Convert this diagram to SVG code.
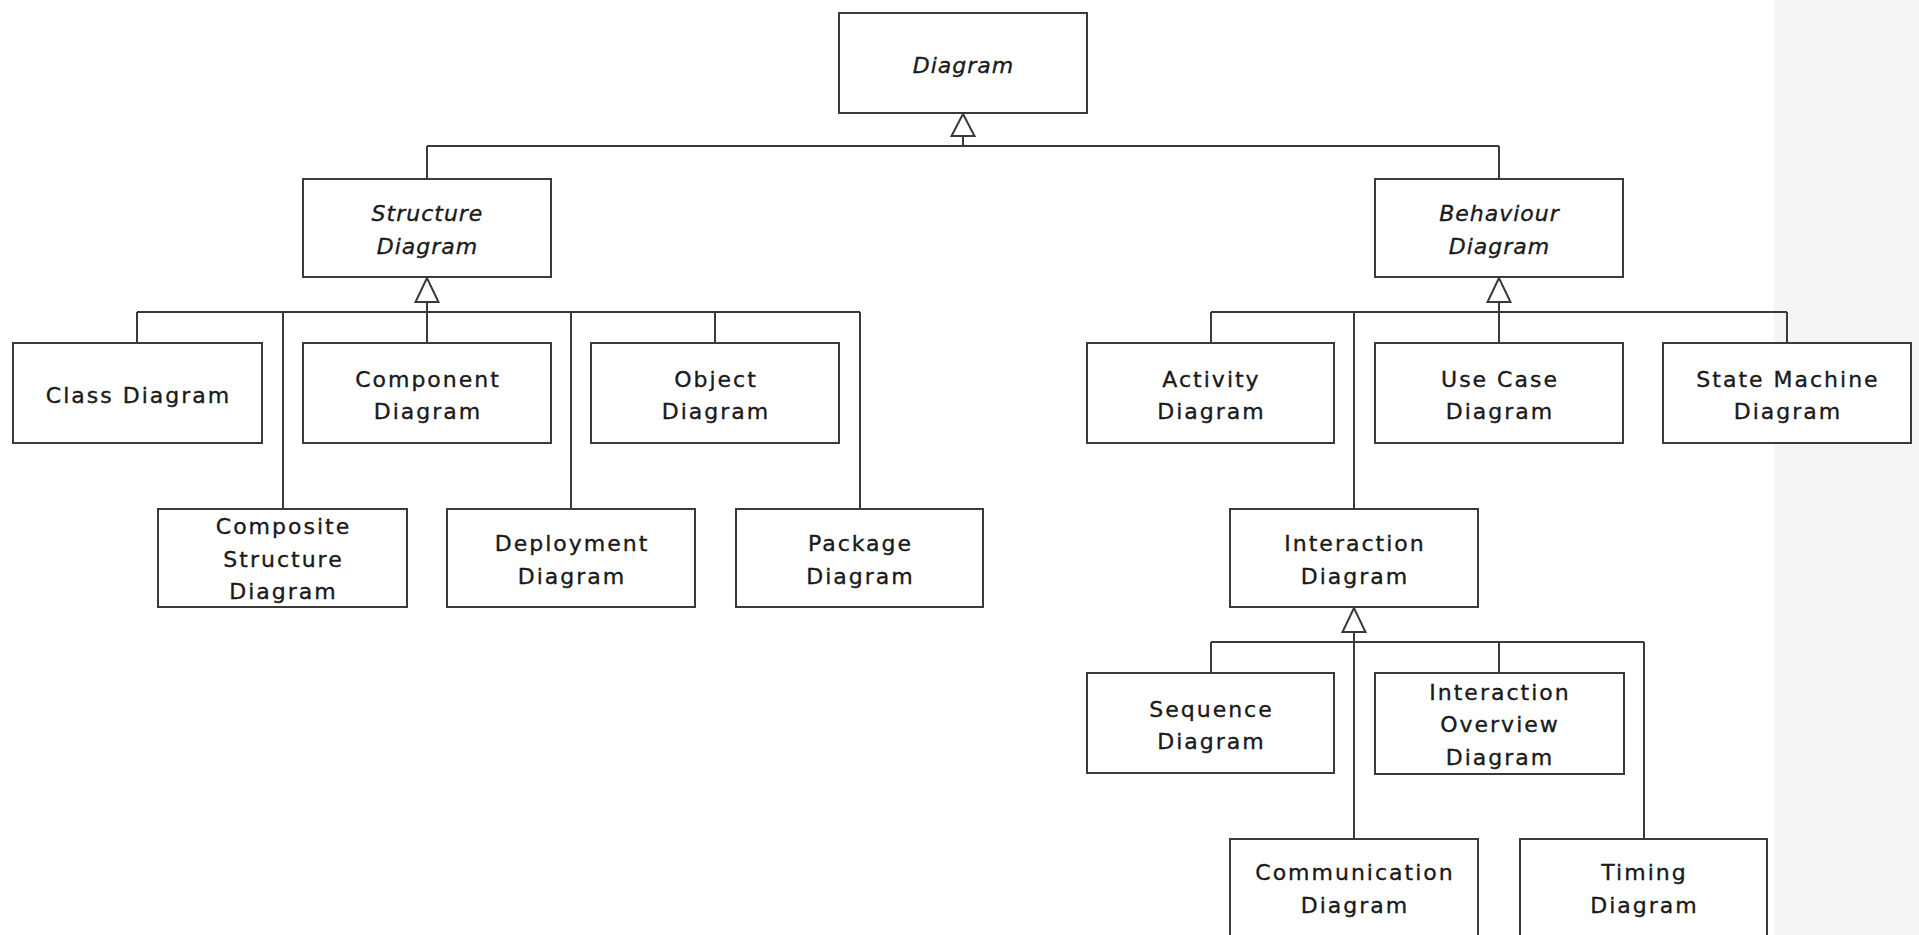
<svg xmlns="http://www.w3.org/2000/svg" width="1919" height="935" viewBox="0 0 1919 935">
  <defs>
    <style>
      .box { fill: #ffffff; stroke: #3a3a3a; stroke-width: 2; }
      .lbl { font-family: "DejaVu Sans", "Liberation Sans", sans-serif; font-size: 22px; letter-spacing: 2px; fill: #1a1a1a; stroke: #1a1a1a; stroke-width: 0.35; text-anchor: middle; }
      .abs { font-style: italic; letter-spacing: 1px; }
      .wire { fill: none; stroke: #3a3a3a; stroke-width: 2; }
      .gen { fill: #ffffff; stroke: #3a3a3a; stroke-width: 2; stroke-linejoin: miter; }
    </style>
  </defs>

  <!-- page background and side panel -->
  <rect x="0" y="0" width="1919" height="935" fill="#ffffff"/>
  <rect x="1774" y="0" width="145" height="935" fill="#f5f5f5"/>

  <!-- generalization connectors -->
  <g id="connectors">
    <!-- Diagram <- Structure / Behaviour -->
    <path class="wire" d="M963 136 V146 M427 146 H1499 M427 146 V179 M1499 146 V179"/>
    <polygon class="gen" points="963,114 951.5,136 974.5,136"/>

    <!-- Structure Diagram children -->
    <path class="wire" d="M427 302 V343 M137 312 H860 M137 312 V343 M283 312 V509 M571 312 V509 M715 312 V343 M860 312 V509"/>
    <polygon class="gen" points="427,278 415.5,302 438.5,302"/>

    <!-- Behaviour Diagram children -->
    <path class="wire" d="M1499 302 V343 M1211 312 H1787 M1211 312 V343 M1354 312 V509 M1787 312 V343"/>
    <polygon class="gen" points="1499,278 1487.5,302 1510.5,302"/>

    <!-- Interaction Diagram children -->
    <path class="wire" d="M1354 632 V839 M1211 642 H1644 M1211 642 V673 M1499 642 V673 M1644 642 V839"/>
    <polygon class="gen" points="1354,608 1342.5,632 1365.5,632"/>
  </g>

  <!-- abstract diagrams -->
  <g id="diagram">
    <rect class="box" x="839" y="13" width="248" height="100"/>
    <text class="lbl abs" x="963.5" y="72.5">Diagram</text>
  </g>
  <g id="structure-diagram">
    <rect class="box" x="303" y="179" width="248" height="98"/>
    <text class="lbl abs" x="427.5" y="221">Structure</text>
    <text class="lbl abs" x="427.5" y="253.5">Diagram</text>
  </g>
  <g id="behaviour-diagram">
    <rect class="box" x="1375" y="179" width="248" height="98"/>
    <text class="lbl abs" x="1499.5" y="221">Behaviour</text>
    <text class="lbl abs" x="1499.5" y="253.5">Diagram</text>
  </g>

  <!-- structure diagrams -->
  <g id="class-diagram">
    <rect class="box" x="13" y="343" width="249" height="100"/>
    <text class="lbl" x="138.5" y="403">Class Diagram</text>
  </g>
  <g id="component-diagram">
    <rect class="box" x="303" y="343" width="248" height="100"/>
    <text class="lbl" x="428" y="386.5">Component</text>
    <text class="lbl" x="428" y="419">Diagram</text>
  </g>
  <g id="object-diagram">
    <rect class="box" x="591" y="343" width="248" height="100"/>
    <text class="lbl" x="716" y="386.5">Object</text>
    <text class="lbl" x="716" y="419">Diagram</text>
  </g>
  <g id="composite-structure-diagram">
    <rect class="box" x="158" y="509" width="249" height="98"/>
    <text class="lbl" x="283.5" y="534">Composite</text>
    <text class="lbl" x="283.5" y="566.5">Structure</text>
    <text class="lbl" x="283.5" y="599">Diagram</text>
  </g>
  <g id="deployment-diagram">
    <rect class="box" x="447" y="509" width="248" height="98"/>
    <text class="lbl" x="572" y="551">Deployment</text>
    <text class="lbl" x="572" y="583.5">Diagram</text>
  </g>
  <g id="package-diagram">
    <rect class="box" x="736" y="509" width="247" height="98"/>
    <text class="lbl" x="860.5" y="551">Package</text>
    <text class="lbl" x="860.5" y="583.5">Diagram</text>
  </g>

  <!-- behaviour diagrams -->
  <g id="activity-diagram">
    <rect class="box" x="1087" y="343" width="247" height="100"/>
    <text class="lbl" x="1211.5" y="386.5">Activity</text>
    <text class="lbl" x="1211.5" y="419">Diagram</text>
  </g>
  <g id="use-case-diagram">
    <rect class="box" x="1375" y="343" width="248" height="100"/>
    <text class="lbl" x="1500" y="386.5">Use Case</text>
    <text class="lbl" x="1500" y="419">Diagram</text>
  </g>
  <g id="state-machine-diagram">
    <rect class="box" x="1663" y="343" width="248" height="100"/>
    <text class="lbl" x="1788" y="386.5">State Machine</text>
    <text class="lbl" x="1788" y="419">Diagram</text>
  </g>
  <g id="interaction-diagram">
    <rect class="box" x="1230" y="509" width="248" height="98"/>
    <text class="lbl" x="1355" y="551">Interaction</text>
    <text class="lbl" x="1355" y="583.5">Diagram</text>
  </g>

  <!-- interaction diagrams -->
  <g id="sequence-diagram">
    <rect class="box" x="1087" y="673" width="247" height="100"/>
    <text class="lbl" x="1211.5" y="716.5">Sequence</text>
    <text class="lbl" x="1211.5" y="749">Diagram</text>
  </g>
  <g id="interaction-overview-diagram">
    <rect class="box" x="1375" y="673" width="249" height="101"/>
    <text class="lbl" x="1500" y="699.5">Interaction</text>
    <text class="lbl" x="1500" y="732">Overview</text>
    <text class="lbl" x="1500" y="764.5">Diagram</text>
  </g>
  <g id="communication-diagram">
    <rect class="box" x="1230" y="839" width="248" height="100"/>
    <text class="lbl" x="1355" y="880">Communication</text>
    <text class="lbl" x="1355" y="913">Diagram</text>
  </g>
  <g id="timing-diagram">
    <rect class="box" x="1520" y="839" width="247" height="100"/>
    <text class="lbl" x="1644.5" y="880">Timing</text>
    <text class="lbl" x="1644.5" y="913">Diagram</text>
  </g>
</svg>
